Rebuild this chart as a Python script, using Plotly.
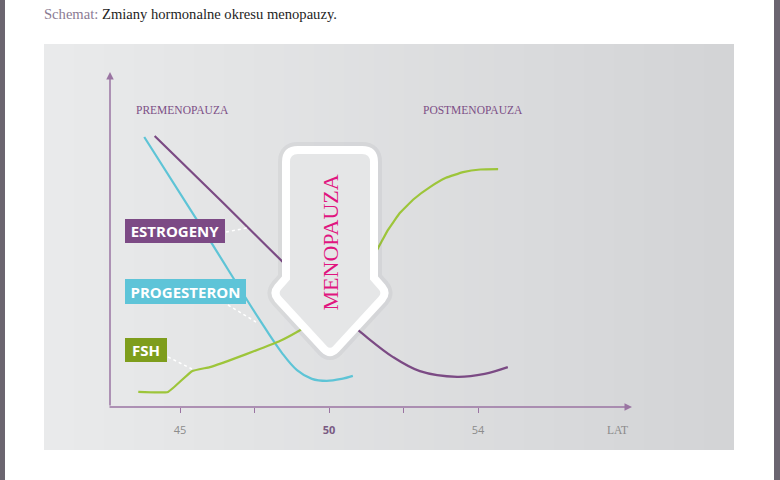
import plotly.graph_objects as go

# ---------------- data (schematic hormone levels, arbitrary units) ----------------
# x in tick-position units (tick 1 = age 45, tick 3 = 50, tick 5 = 54)
tick_vals = [1, 2, 3, 4, 5]
tick_labels = ["45", "", "<b><span style='color:#7a5a82'>50</span></b>", "", "54"]

estro_x = [0.66, 1.54, 2.38, 3.01, 3.42, 3.86, 4.22, 4.72, 5.09, 5.40]
estro_y = [80.9, 61.8, 43.3, 29.9, 22.4, 14.9, 10.7, 9.0, 9.9, 11.9]

prog_x = [0.52, 1.34, 2.07, 2.37, 2.57, 2.77, 2.97, 3.17, 3.32]
prog_y = [80.6, 51.9, 26.0, 16.1, 11.0, 8.4, 7.8, 8.4, 9.3]

fsh_x = [0.44, 0.84, 1.16, 1.40, 1.71, 2.07, 2.34, 2.57, 2.88, 3.22, 3.48,
         3.66, 3.79, 3.95, 4.14, 4.36, 4.57, 4.80, 5.03, 5.27]
fsh_y = [4.5, 4.5, 10.7, 11.9, 14.3, 17.3, 19.7, 22.4, 26.6, 33.1, 40.9,
         47.5, 52.8, 57.9, 62.1, 65.7, 68.4, 70.1, 70.9, 71.0]

series_names = ["ESTROGENY", "PROGESTERON", "FSH"]
line_colors = ["#7b4a84", "#5ec4d6", "#9dc53a"]
box_colors = ["#7c4a85", "#5ec4d8", "#7e9d1c"]

W, H = 780, 480


def X(px):
    return px / W


def Y(py):
    return 1 - py / H


fig = go.Figure()

for xs, ys, col, smooth in [
    (estro_x, estro_y, line_colors[0], 1.0),
    (prog_x, prog_y, line_colors[1], 1.0),
    (fsh_x, fsh_y, line_colors[2], 0.3),
]:
    fig.add_trace(go.Scatter(x=xs, y=ys, mode="lines",
                             line=dict(color=col, width=2.2, shape="spline", smoothing=smooth),
                             hoverinfo="skip", showlegend=False))

shapes = []
# page side bars
shapes.append(dict(type="rect", xref="paper", yref="paper", x0=0, x1=X(5), y0=0, y1=1,
                   fillcolor="#6b6570", line=dict(width=0), layer="below"))
shapes.append(dict(type="rect", xref="paper", yref="paper", x0=X(774), x1=1, y0=0, y1=1,
                   fillcolor="#6b6570", line=dict(width=0), layer="below"))

# gradient panel
n = 46
left_c = (0xe9, 0xea, 0xeb)
right_c = (0xd3, 0xd4, 0xd6)
x0p, x1p = 44, 734
for i in range(n):
    t = i / (n - 1)
    c = tuple(round(left_c[k] + (right_c[k] - left_c[k]) * t) for k in range(3))
    a = x0p + (x1p - x0p) * i / n
    b = x0p + (x1p - x0p) * (i + 1) / n
    shapes.append(dict(type="rect", xref="paper", yref="paper",
                       x0=X(a), x1=X(min(b + 0.6, x1p)), y0=Y(450), y1=Y(44),
                       fillcolor="rgb(%d,%d,%d)" % c, line=dict(width=0), layer="below"))


def path(cmds):
    out = []
    for c in cmds:
        op = c[0]
        pts = c[1:]
        s = op + " " + " ".join("%.5f,%.5f" % (X(pts[j]), Y(pts[j + 1])) for j in range(0, len(pts), 2))
        out.append(s)
    return " ".join(out) + " Z"


arrow = path([
    ("M", 286, 162),
    ("Q", 286, 150, 298, 150),
    ("L", 362, 150),
    ("Q", 374, 150, 374, 162),
    ("L", 374, 278),
    ("L", 382, 287),
    ("Q", 387, 293, 382, 299),
    ("L", 336, 349),
    ("Q", 330, 355, 324, 349),
    ("L", 278, 299),
    ("Q", 273, 293, 278, 287),
    ("L", 286, 278),
])
shapes.append(dict(type="path", xref="paper", yref="paper", path=arrow,
                   fillcolor="rgba(0,0,0,0)", line=dict(color="rgba(90,90,100,0.07)", width=16),
                   layer="above"))
shapes.append(dict(type="path", xref="paper", yref="paper", path=arrow,
                   fillcolor="#e5e6e7", line=dict(color="white", width=8),
                   layer="above"))

# dotted connectors
for (a, b, c, d) in [(226, 232, 247, 228), (228, 305, 256, 322), (168, 357, 192, 369)]:
    shapes.append(dict(type="line", xref="paper", yref="paper", x0=X(a), y0=Y(b), x1=X(c), y1=Y(d),
                       line=dict(color="white", width=1.5, dash="dot"), layer="above"))

annotations = []
# axis lines with arrow heads
axis_col = "#9a74a2"
annotations.append(dict(xref="paper", yref="paper", x=X(110), y=Y(72), ax=0, ay=335,
                        showarrow=True, arrowhead=2, arrowsize=1, arrowwidth=1.5,
                        arrowcolor=axis_col, text=""))
annotations.append(dict(xref="paper", yref="paper", x=X(632), y=Y(407), ax=-524, ay=0,
                        showarrow=True, arrowhead=2, arrowsize=1, arrowwidth=1.5,
                        arrowcolor=axis_col, text=""))

# title
annotations.append(dict(xref="paper", yref="paper", x=X(42), y=Y(14), xanchor="left", yanchor="middle",
                        showarrow=False,
                        text="<span style='color:#8b7b93'>Schemat:</span> Zmiany hormonalne okresu menopauzy.",
                        font=dict(family="Liberation Serif", size=14.6, color="#1e1e1e")))

# phase labels
for txt, cx in [("PREMENOPAUZA", 182.5), ("POSTMENOPAUZA", 473.5)]:
    annotations.append(dict(xref="paper", yref="paper", x=X(cx), y=Y(110), xanchor="center",
                            yanchor="middle", showarrow=False, text=txt,
                            font=dict(family="Liberation Serif", size=11.5, color="#7c4f86")))

# LAT
annotations.append(dict(xref="paper", yref="paper", x=X(617), y=Y(430), xanchor="center",
                        yanchor="middle", showarrow=False, text="LAT",
                        font=dict(family="Liberation Serif", size=11.5, color="#8a8a8a")))

# MENOPAUZA in arrow
annotations.append(dict(xref="paper", yref="paper", x=X(330), y=Y(242.5), xanchor="center",
                        yanchor="middle", showarrow=False, text="MENOPAUZA", textangle=-90,
                        font=dict(family="Liberation Serif", size=22, color="#e0157f")))

# series label boxes
for name, col, (left, top, right, bottom) in zip(
        series_names, box_colors,
        [(125, 219, 225, 243), (125, 279, 246, 304), (125, 338, 167, 362)]):
    pad = 3
    annotations.append(dict(xref="paper", yref="paper", x=X(left), y=Y(top), xanchor="left",
                            yanchor="top", showarrow=False, text="<b>%s</b>" % name,
                            bgcolor=col, borderpad=pad, borderwidth=0,
                            width=right - left - 2 * pad, height=bottom - top - 2 * pad,
                            align="center", valign="middle",
                            font=dict(family="Open Sans", size=15, color="white")))

fig.update_layout(
    width=W, height=H,
    margin=dict(l=0, r=0, t=0, b=0),
    paper_bgcolor="white", plot_bgcolor="rgba(0,0,0,0)",
    shapes=shapes, annotations=annotations,
    showlegend=False,
    xaxis=dict(domain=[X(110), X(632)], range=[(110 - 105.5) / 74.5, (632 - 105.5) / 74.5],
               showgrid=False, zeroline=False, showline=False,
               tickmode="array", tickvals=tick_vals, ticktext=tick_labels,
               ticks="outside", ticklen=5, tickwidth=1.2, tickcolor=axis_col,
               ticklabelstandoff=8,
               tickfont=dict(family="Open Sans", size=11, color="#8c8c8c"),
               fixedrange=True),
    yaxis=dict(domain=[Y(407), Y(72)], range=[0, 100], showgrid=False, zeroline=False,
               showline=False, showticklabels=False, ticks="", fixedrange=True),
)

fig.write_html("out.html")
